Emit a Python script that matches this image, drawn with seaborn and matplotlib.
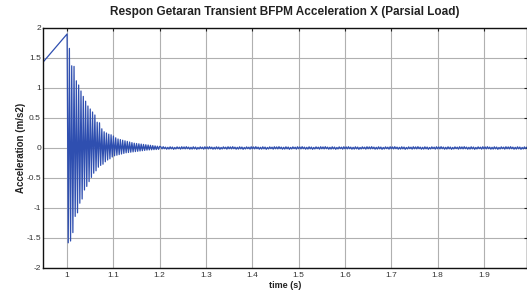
import numpy as np
import pandas as pd
import matplotlib
matplotlib.use("Agg")
import matplotlib.pyplot as plt
import seaborn as sns

# ---- data ----
ramp_t = [0.948, 1.0]
ramp_v = [1.43, 1.90]

pos_peaks = [1.66, 1.37, 1.36, 1.12, 1.05, 0.95, 0.86, 0.78, 0.70, 0.65,
             0.60, 0.55, 0.43, 0.42, 0.32, 0.27, 0.25, 0.23, 0.22, 0.20,
             0.17, 0.15, 0.14, 0.13, 0.12, 0.11, 0.10, 0.09, 0.08, 0.075,
             0.07, 0.065, 0.06, 0.055, 0.05, 0.045, 0.04, 0.035, 0.03, 0.028]
neg_peaks = [-1.58, -1.55, -1.41, -1.14, -1.08, -0.92, -0.85, -0.70, -0.64, -0.56,
             -0.49, -0.42, -0.38, -0.32, -0.29, -0.27, -0.23, -0.20, -0.18, -0.15,
             -0.13, -0.12, -0.11, -0.10, -0.09, -0.08, -0.075, -0.07, -0.065, -0.06,
             -0.055, -0.05, -0.045, -0.04, -0.035, -0.032, -0.03, -0.027, -0.025, -0.022]
tail_pattern = [0.018, -0.015, 0.022, -0.012, 0.015, -0.020, 0.012, -0.018, 0.020, -0.014,
                0.016, -0.022, 0.010, -0.016, 0.019, -0.011, 0.014, -0.019, 0.021, -0.013]

x_ticks = [1.0, 1.1, 1.2, 1.3, 1.4, 1.5, 1.6, 1.7, 1.8, 1.9]
x_labels = ["1", "1.1", "1.2", "1.3", "1.4", "1.5", "1.6", "1.7", "1.8", "1.9"]
y_ticks = [-2, -1.5, -1, -0.5, 0, 0.5, 1, 1.5, 2]
y_labels = ["-2", "-1.5", "-1", "-0.5", "0", "0.5", "1", "1.5", "2"]

# ---- assemble the time series ----
half = 0.0025
decay_vals = []
for n, p in zip(neg_peaks, pos_peaks):
    decay_vals += [n, p]
n_tail = int(round((1.995 - (1.0 + half * len(decay_vals))) / half))
tail_vals = (tail_pattern * (n_tail // len(tail_pattern) + 1))[:n_tail]
osc_vals = decay_vals + tail_vals
osc_t = [1.0 + half * (i + 1) for i in range(len(osc_vals))]

df = pd.DataFrame({"t": ramp_t + osc_t, "a": ramp_v + osc_vals})

# ---- plot ----
sns.set_style("white")
plt.rcParams["font.family"] = ["Liberation Sans", "DejaVu Sans"]

fig = plt.figure(figsize=(5.27, 2.91), dpi=100)
ax = fig.add_axes([43 / 527, 1 - 268 / 291, 484 / 527, 240 / 291])

sns.lineplot(data=df, x="t", y="a", ax=ax, sort=False, estimator=None,
             color="#2f4fb0", linewidth=0.9)

ax.set_xlim(0.948, 1.993)
ax.set_ylim(-2, 2)
ax.set_xticks(x_ticks)
ax.set_xticklabels(x_labels, fontsize=6)
ax.set_yticks(y_ticks)
ax.set_yticklabels(y_labels, fontsize=6)
ax.grid(True, color="#b0b0b0", linewidth=0.8)
ax.set_axisbelow(True)
ax.tick_params(axis="both", direction="in", length=2.5, width=0.8, top=True, right=True,
               colors="#222222", labelcolor="#333333")
ax.tick_params(axis="y", pad=1.5)
ax.tick_params(axis="x", pad=3)
for s in ax.spines.values():
    s.set_color("#111111")
    s.set_linewidth(1.0)

ax.set_title("Respon Getaran Transient BFPM Acceleration X (Parsial Load)",
             fontsize=8.5, fontweight="bold", pad=9, color="#222222")
ax.set_xlabel("time (s)", fontsize=6.5, fontweight="bold", labelpad=1, color="#222222")
ax.set_ylabel("Acceleration (m/s2)", fontsize=7, fontweight="bold", labelpad=0.5, color="#222222")

fig.savefig("out.png", dpi=100)
